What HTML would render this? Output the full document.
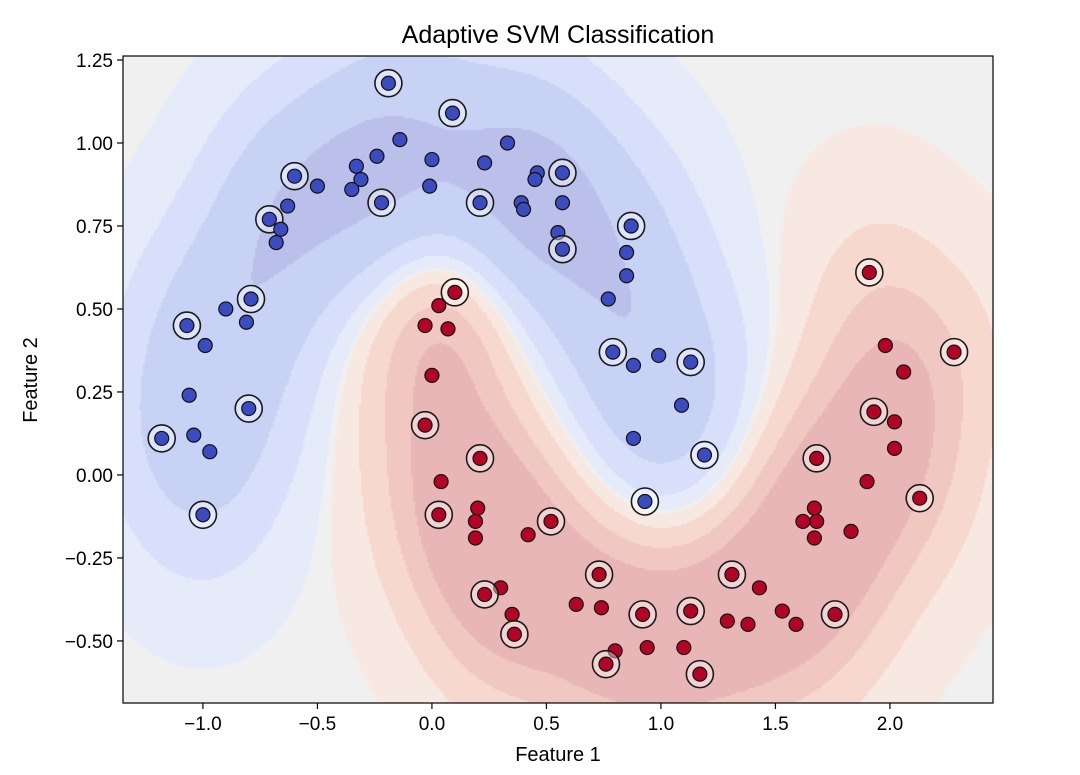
<!DOCTYPE html>
<html><head><meta charset="utf-8">
<style>
body{margin:0;background:#fff;width:1080px;height:775px;overflow:hidden;font-family:"Liberation Sans","DejaVu Sans",sans-serif}
#wrap{position:relative;width:1080px;height:775px}
canvas{position:absolute;left:123px;top:56px}
svg{position:absolute;left:0;top:0}
</style></head><body>
<div id="wrap">
<canvas id="bg" width="870" height="647"></canvas>
<svg id="svg" width="1080" height="775"></svg>
</div>
<script>
const blueX=[-0.19,0.09,-0.14,0.33,-0.24,0.00,-0.33,0.23,0.46,0.57,-0.31,0.45,-0.60,-0.50,-0.35,-0.01,0.21,-0.22,0.39,0.40,0.57,-0.63,-0.71,-0.66,0.87,0.55,-0.68,0.57,0.85,0.85,0.77,-0.79,-0.90,-0.81,-1.07,-0.99,0.79,0.99,0.88,1.13,-1.06,-0.80,1.09,0.88,-1.18,-1.04,-0.97,1.19,0.93,-1.00];
const blueY=[1.18,1.09,1.01,1.00,0.96,0.95,0.93,0.94,0.91,0.91,0.89,0.89,0.90,0.87,0.86,0.87,0.82,0.82,0.82,0.80,0.82,0.81,0.77,0.74,0.75,0.73,0.70,0.68,0.67,0.60,0.53,0.53,0.50,0.46,0.45,0.39,0.37,0.36,0.33,0.34,0.24,0.20,0.21,0.11,0.11,0.12,0.07,0.06,-0.08,-0.12];
const blueSV=[1,1,0,0,0,0,0,0,0,1,0,0,1,0,0,0,1,1,0,0,0,0,1,0,1,0,0,1,0,0,0,1,0,0,1,0,1,0,0,1,0,1,0,0,1,0,0,1,1,1];
const redX=[1.91,0.10,0.03,-0.03,0.07,1.98,2.28,0.00,2.06,1.93,2.02,-0.03,0.21,1.68,2.02,0.04,1.90,2.13,0.20,1.67,0.03,1.68,0.19,1.62,0.52,0.19,1.83,1.67,0.42,0.30,0.23,0.73,1.31,0.63,0.74,1.43,0.35,0.92,1.13,1.53,1.76,1.29,1.38,1.59,0.36,0.80,0.94,1.10,0.76,1.17];
const redY=[0.61,0.55,0.51,0.45,0.44,0.39,0.37,0.30,0.31,0.19,0.16,0.15,0.05,0.05,0.08,-0.02,-0.02,-0.07,-0.10,-0.10,-0.12,-0.14,-0.14,-0.14,-0.14,-0.19,-0.17,-0.19,-0.18,-0.34,-0.36,-0.30,-0.30,-0.39,-0.40,-0.34,-0.42,-0.42,-0.41,-0.41,-0.42,-0.44,-0.45,-0.45,-0.48,-0.53,-0.52,-0.52,-0.57,-0.60];
const redSV=[1,1,0,0,0,0,1,0,0,1,0,1,1,1,0,0,0,1,0,0,1,0,0,0,1,0,0,0,0,0,1,1,1,0,0,0,0,1,1,0,1,0,0,0,1,0,0,0,1,1];
const xTicks=[-1.0,-0.5,0.0,0.5,1.0,1.5,2.0];
const xTickLabels=["\u22121.0","\u22120.5","0.0","0.5","1.0","1.5","2.0"];
const yTicks=[1.25,1.00,0.75,0.50,0.25,0.00,-0.25,-0.50];
const yTickLabels=["1.25","1.00","0.75","0.50","0.25","0.00","\u22120.25","\u22120.50"];

const L=123,T=56,R=993,B=703;
const X0=-1.349,X1=2.45,Y0=-0.687,Y1=1.262;
const sx=v=>L+(v-X0)/(X1-X0)*(R-L);
const sy=v=>B-(v-Y0)/(Y1-Y0)*(B-T);

(function(){
  const c=document.getElementById('bg'),ctx=c.getContext('2d');
  const W=c.width,H=c.height,img=ctx.createImageData(W,H);
  const g=10;
  const pts=[];
  blueX.forEach((x,i)=>pts.push([x,blueY[i],-1]));
  redX.forEach((x,i)=>pts.push([x,redY[i],1]));
  const thrB=[0.15,1.3,3.4,7.2];
  const thrR=[0.15,1.3,3.0,4.8];
  const blue=[[240,240,240],[229,235,249],[215,223,250],[200,210,245],[187,192,234]];
  const red=[[240,240,240],[248,232,226],[246,216,206],[240,200,193],[232,182,183]];
  const step=2;
  for(let py=0;py<H;py+=step){
    const y=Y1-(py/(H))*(Y1-Y0);
    for(let px=0;px<W;px+=step){
      const x=X0+(px/W)*(X1-X0);
      let f=0;
      for(const p of pts){const dx=x-p[0],dy=y-p[1];f+=p[2]*Math.exp(-g*(dx*dx+dy*dy));}
      const a=Math.abs(f);const thr=f<0?thrB:thrR;let lv=0;for(let k=0;k<4;k++)if(a>thr[k])lv=k+1;
      const col=(f<0?blue:red)[lv];
      for(let yy=py;yy<Math.min(py+step,H);yy++)for(let xx=px;xx<Math.min(px+step,W);xx++){
        const o=(yy*W+xx)*4;img.data[o]=col[0];img.data[o+1]=col[1];img.data[o+2]=col[2];img.data[o+3]=255;}
    }
  }
  ctx.putImageData(img,0,0);
})();

const NS='http://www.w3.org/2000/svg';
const svg=document.getElementById('svg');
function mk(tag,attrs,parent){const e=document.createElementNS(NS,tag);for(const k in attrs)e.setAttribute(k,attrs[k]);(parent||svg).appendChild(e);return e;}

function drawPts(xs,ys,sv,fill,nm){
  xs.forEach((x,i)=>{
    const cx=sx(x),cy=sy(ys[i]);
    if(sv[i]){
      const r=mk('circle',{cx:cx,cy:cy,r:13.5,fill:'rgba(255,255,255,0.4)',stroke:'#1a1a1a','stroke-width':1.6});
      
      
    }
    const p=mk('circle',{cx:cx,cy:cy,r:7,fill:fill,stroke:'#111','stroke-width':1.2});
    
    
  });
}
drawPts(blueX,blueY,blueSV,'#3b4cc0','point-class-0');
drawPts(redX,redY,redSV,'#b40426','point-class-1');

const frame=mk('rect',{x:L,y:T,width:R-L,height:B-T,fill:'none',stroke:'#000','stroke-width':1.2});



xTicks.forEach((v,i)=>{
  const x=sx(v);
  const t=mk('line',{x1:x,y1:B,x2:x,y2:B+6,stroke:'#000','stroke-width':1.2});
  
  
  const l=mk('text',{x:x,y:B+27,'text-anchor':'middle','font-size':19,fill:'#000'});
  l.textContent=xTickLabels[i];
  
  
});
yTicks.forEach((v,i)=>{
  const y=sy(v);
  const t=mk('line',{x1:L-6,y1:y,x2:L,y2:y,stroke:'#000','stroke-width':1.2});
  
  
  const l=mk('text',{x:L-10,y:y+7,'text-anchor':'end','font-size':19,fill:'#000'});
  l.textContent=yTickLabels[i];
  
  
});
</script>
<svg width="1080" height="775" style="position:absolute;left:0;top:0;pointer-events:none">
<text x="558" y="43" text-anchor="middle" font-size="25" font-family="Liberation Sans, DejaVu Sans, sans-serif">Adaptive SVM Classification</text>
<text x="558" y="761" text-anchor="middle" font-size="20" font-family="Liberation Sans, DejaVu Sans, sans-serif">Feature 1</text>
<text x="37" y="380" text-anchor="middle" font-size="20" font-family="Liberation Sans, DejaVu Sans, sans-serif" transform="rotate(-90 37 380)">Feature 2</text>
</svg>
</body></html>
